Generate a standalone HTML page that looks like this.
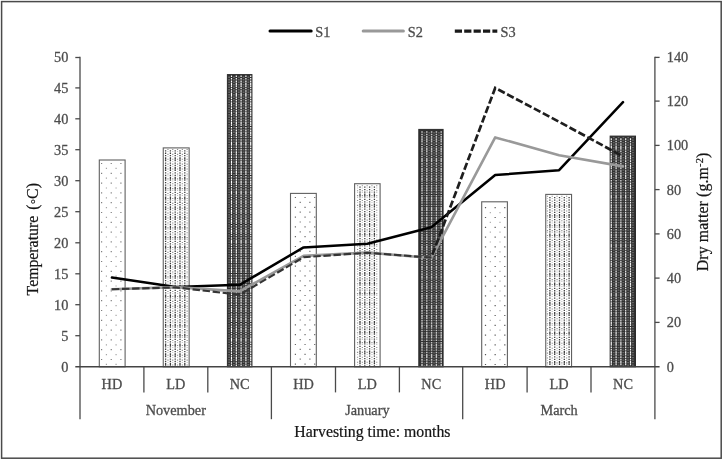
<!DOCTYPE html>
<html><head><meta charset="utf-8"><title>Chart</title>
<style>
html,body{margin:0;padding:0;background:#fff;overflow:hidden;}
svg{display:block}
text{font-family:"Liberation Serif",serif;}
.l{font-size:14.3px;fill:#4c4c4c;stroke:#4c4c4c;stroke-width:0.28px;}
.t{font-size:15.8px;fill:#161616;stroke:#161616;stroke-width:0.22px;}
</style></head><body>
<svg width="723" height="461" viewBox="0 0 723 461">

<rect x="0" y="0" width="723" height="461" fill="#fff"/>
<rect x="1.6" y="1.6" width="719.6" height="456.6" fill="none" stroke="#4a4a4a" stroke-width="1.5"/>

<rect x="99.30" y="160.00" width="25.80" height="206.80" fill="#fff" stroke="#606060" stroke-width="1.1"/>
<path d="M101.60 162.90V366.0M111.25 162.90V366.0M120.90 162.90V366.0" stroke="#808080" stroke-width="1.2" stroke-dasharray="1.2 8.6" fill="none"/>
<path d="M106.43 167.80V366.0M116.08 167.80V366.0" stroke="#a4a4a4" stroke-width="1.2" stroke-dasharray="1.2 8.6" fill="none"/>
<rect x="163.25" y="147.90" width="25.90" height="218.90" fill="#fff" stroke="#606060" stroke-width="1.1"/>
<path d="M165.60 150.15V366.0M170.40 150.15V366.0M175.20 150.15V366.0M180.00 150.15V366.0M184.80 150.15V366.0" stroke="#3c3c3c" stroke-width="1.3" stroke-dasharray="1.3 1.15 1.3 1.15 1.3 0.9 2.45 0.25" fill="none"/>
<path d="M167.95 148.90V366.0M172.75 148.90V366.0M177.55 148.90V366.0M182.35 148.90V366.0M187.15 148.90V366.0" stroke="#909090" stroke-width="1.2" stroke-dasharray="1.1 1.35 0.5 1.95" fill="none"/>
<rect x="227.40" y="74.60" width="24.55" height="292.20" fill="#303030" stroke="#2c2c2c" stroke-width="1"/>
<path d="M231.50 75.50V366.0M236.30 75.50V366.0M241.10 75.50V366.0M245.90 75.50V366.0M250.70 75.50V366.0" stroke="#fff" stroke-width="1.2" stroke-dasharray="1.6 0.85 1.6 0.85 1.6 0.6 2.5 0.2" fill="none"/>
<path d="M229.15 76.60V366.0M233.95 76.60V366.0M238.75 76.60V366.0M243.55 76.60V366.0M248.35 76.60V366.0" stroke="#686868" stroke-width="1.8" stroke-dasharray="1.3 1.2" fill="none"/>
<rect x="290.50" y="193.40" width="25.80" height="173.40" fill="#fff" stroke="#606060" stroke-width="1.1"/>
<path d="M295.40 196.90V366.0M305.05 196.90V366.0M314.70 196.90V366.0" stroke="#6a6a6a" stroke-width="1.2" stroke-dasharray="1.2 8.6" fill="none"/>
<path d="M300.23 201.80V366.0M309.88 201.80V366.0" stroke="#747474" stroke-width="1.2" stroke-dasharray="1.2 8.6" fill="none"/>
<rect x="354.60" y="183.70" width="25.50" height="183.10" fill="#fff" stroke="#606060" stroke-width="1.1"/>
<path d="M360.00 186.50V366.0M364.80 186.50V366.0M369.60 186.50V366.0M374.40 186.50V366.0" stroke="#3c3c3c" stroke-width="1.3" stroke-dasharray="1.3 1.15 1.3 1.15 1.3 0.9 2.45 0.25" fill="none"/>
<path d="M357.55 185.25V366.0M362.35 185.25V366.0M367.15 185.25V366.0M371.95 185.25V366.0M376.75 185.25V366.0" stroke="#909090" stroke-width="1.2" stroke-dasharray="1.1 1.35 0.5 1.95" fill="none"/>
<rect x="418.80" y="129.40" width="24.30" height="237.40" fill="#303030" stroke="#2c2c2c" stroke-width="1"/>
<path d="M422.00 131.20V366.0M426.80 131.20V366.0M431.60 131.20V366.0M436.40 131.20V366.0M441.20 131.20V366.0" stroke="#c6c6c6" stroke-width="1.5" stroke-dasharray="1.6 0.85 1.6 0.85 1.6 0.6 2.5 0.2" fill="none"/>
<path d="M424.45 132.30V366.0M429.25 132.30V366.0M434.05 132.30V366.0M438.85 132.30V366.0" stroke="#686868" stroke-width="1.8" stroke-dasharray="1.3 1.2" fill="none"/>
<rect x="481.70" y="201.80" width="25.70" height="165.00" fill="#fff" stroke="#606060" stroke-width="1.1"/>
<path d="M485.50 207.10V366.0M495.15 207.10V366.0M504.80 207.10V366.0" stroke="#585858" stroke-width="1.2" stroke-dasharray="1.2 8.6" fill="none"/>
<path d="M490.33 212.00V366.0M499.98 212.00V366.0" stroke="#adadad" stroke-width="1.2" stroke-dasharray="1.2 8.6" fill="none"/>
<rect x="545.75" y="194.40" width="25.80" height="172.40" fill="#fff" stroke="#606060" stroke-width="1.1"/>
<path d="M549.90 197.00V366.0M554.70 197.00V366.0M559.50 197.00V366.0M564.30 197.00V366.0M569.10 197.00V366.0" stroke="#3c3c3c" stroke-width="1.3" stroke-dasharray="1.3 1.15 1.3 1.15 1.3 0.9 2.45 0.25" fill="none"/>
<path d="M547.45 195.75V366.0M552.25 195.75V366.0M557.05 195.75V366.0M561.85 195.75V366.0M566.65 195.75V366.0" stroke="#909090" stroke-width="1.2" stroke-dasharray="1.1 1.35 0.5 1.95" fill="none"/>
<rect x="610.15" y="136.10" width="25.35" height="230.70" fill="#303030" stroke="#2c2c2c" stroke-width="1"/>
<path d="M611.30 138.30V366.0M616.10 138.30V366.0M620.90 138.30V366.0M625.70 138.30V366.0M630.50 138.30V366.0" stroke="#f2f2f2" stroke-width="1.2" stroke-dasharray="1.6 0.85 1.6 0.85 1.6 0.6 2.5 0.2" fill="none"/>
<path d="M613.75 136.90V366.0M618.55 136.90V366.0M623.35 136.90V366.0M628.15 136.90V366.0M632.95 136.90V366.0" stroke="#686868" stroke-width="1.8" stroke-dasharray="1.3 1.2" fill="none"/>
<g stroke="#4a4a4a" stroke-width="1.3" fill="none">
<line x1="80.0" y1="56.8" x2="80.0" y2="419.2"/>
<line x1="654.9" y1="56.8" x2="654.9" y2="419.2"/>
<line x1="75.3" y1="335.70" x2="80.0" y2="335.70"/>
<line x1="75.3" y1="304.70" x2="80.0" y2="304.70"/>
<line x1="75.3" y1="273.80" x2="80.0" y2="273.80"/>
<line x1="75.3" y1="242.80" x2="80.0" y2="242.80"/>
<line x1="75.3" y1="211.70" x2="80.0" y2="211.70"/>
<line x1="75.3" y1="180.70" x2="80.0" y2="180.70"/>
<line x1="75.3" y1="149.70" x2="80.0" y2="149.70"/>
<line x1="75.3" y1="118.80" x2="80.0" y2="118.80"/>
<line x1="75.3" y1="87.90" x2="80.0" y2="87.90"/>
<line x1="75.3" y1="57.50" x2="80.0" y2="57.50"/>
<line x1="654.9" y1="322.40" x2="659.6" y2="322.40"/>
<line x1="654.9" y1="278.10" x2="659.6" y2="278.10"/>
<line x1="654.9" y1="233.90" x2="659.6" y2="233.90"/>
<line x1="654.9" y1="189.60" x2="659.6" y2="189.60"/>
<line x1="654.9" y1="145.40" x2="659.6" y2="145.40"/>
<line x1="654.9" y1="101.10" x2="659.6" y2="101.10"/>
<line x1="654.9" y1="57.40" x2="659.6" y2="57.40"/>
<line x1="143.9" y1="366.8" x2="143.9" y2="392.4"/>
<line x1="207.8" y1="366.8" x2="207.8" y2="392.4"/>
<line x1="271.4" y1="366.8" x2="271.4" y2="419.2"/>
<line x1="335.5" y1="366.8" x2="335.5" y2="392.4"/>
<line x1="399.4" y1="366.8" x2="399.4" y2="392.4"/>
<line x1="462.7" y1="366.8" x2="462.7" y2="419.2"/>
<line x1="527.1" y1="366.8" x2="527.1" y2="392.4"/>
<line x1="591.0" y1="366.8" x2="591.0" y2="392.4"/>
</g>
<line x1="75.3" y1="366.8" x2="659.6" y2="366.8" stroke="#444" stroke-width="1.6"/>
<polyline points="111.9,277.6 175.8,287.1 239.7,284.8 303.6,247.4 367.4,243.8 431.3,227.3 495.2,175.0 559.1,170.2 623.0,102.2" fill="none" stroke="#000" stroke-width="2.5" stroke-linejoin="round" stroke-linecap="round"/>
<polyline points="111.9,289.2 175.8,287.1 239.7,291.4 303.6,255.9 367.4,252.6 431.3,258.0 495.2,137.4 559.1,155.2 623.0,166.4" fill="none" stroke="#999" stroke-width="2.6" stroke-linejoin="round" stroke-linecap="round"/>
<polyline points="111.9,289.2 175.8,287.4 239.7,294.7 303.6,257.2 367.4,252.8 431.3,257.6" fill="none" stroke="#353535" stroke-width="2.15" stroke-linejoin="round" stroke-dasharray="7.4 2.7"/>
<polyline points="431.3,257.6 495.2,87.9 559.1,121.8 623.0,156.4" fill="none" stroke="#1e1e1e" stroke-width="2.7" stroke-linejoin="miter" stroke-dasharray="7.4 2.7" stroke-dashoffset="7.16"/>
<line x1="270" y1="31.1" x2="311.2" y2="31.1" stroke="#000" stroke-width="3" stroke-linecap="round"/>
<line x1="363.2" y1="31.1" x2="403.4" y2="31.1" stroke="#999" stroke-width="3" stroke-linecap="round"/>
<line x1="454.8" y1="31.1" x2="497.3" y2="31.1" stroke="#1a1a1a" stroke-width="3.1" stroke-dasharray="7.2 2.2"/>
<text class="l" x="315.2" y="37.2">S1</text>
<text class="l" x="407.7" y="37.2">S2</text>
<text class="l" x="500.6" y="37.2">S3</text>
<text class="l" x="68.4" y="371.5" text-anchor="end">0</text>
<text class="l" x="68.4" y="340.6" text-anchor="end">5</text>
<text class="l" x="68.4" y="309.6" text-anchor="end">10</text>
<text class="l" x="68.4" y="278.7" text-anchor="end">15</text>
<text class="l" x="68.4" y="247.7" text-anchor="end">20</text>
<text class="l" x="68.4" y="216.6" text-anchor="end">25</text>
<text class="l" x="68.4" y="185.6" text-anchor="end">30</text>
<text class="l" x="68.4" y="154.6" text-anchor="end">35</text>
<text class="l" x="68.4" y="123.7" text-anchor="end">40</text>
<text class="l" x="68.4" y="92.8" text-anchor="end">45</text>
<text class="l" x="68.4" y="62.4" text-anchor="end">50</text>
<text class="l" x="666.8" y="371.5">0</text>
<text class="l" x="666.8" y="327.3">20</text>
<text class="l" x="666.8" y="283.0">40</text>
<text class="l" x="666.8" y="238.8">60</text>
<text class="l" x="666.8" y="194.5">80</text>
<text class="l" x="666.8" y="150.3">100</text>
<text class="l" x="666.8" y="106.0">120</text>
<text class="l" x="666.8" y="62.3">140</text>
<text class="l" x="111.9" y="388.7" text-anchor="middle">HD</text>
<text class="l" x="175.8" y="388.7" text-anchor="middle">LD</text>
<text class="l" x="239.7" y="388.7" text-anchor="middle">NC</text>
<text class="l" x="303.6" y="388.7" text-anchor="middle">HD</text>
<text class="l" x="367.4" y="388.7" text-anchor="middle">LD</text>
<text class="l" x="431.3" y="388.7" text-anchor="middle">NC</text>
<text class="l" x="495.2" y="388.7" text-anchor="middle">HD</text>
<text class="l" x="559.1" y="388.7" text-anchor="middle">LD</text>
<text class="l" x="623.0" y="388.7" text-anchor="middle">NC</text>
<text class="l" x="175.8" y="414.6" text-anchor="middle">November</text>
<text class="l" x="367.4" y="414.6" text-anchor="middle">January</text>
<text class="l" x="559.1" y="414.6" text-anchor="middle">March</text>
<text class="t" x="372.4" y="437" text-anchor="middle">Harvesting time: months</text>
<text class="t" transform="translate(37.5,295.4) rotate(-90)">Temperature <tspan dx="2.1">(◦C)</tspan></text>
<text class="t" transform="translate(708.0,271.3) rotate(-90)" letter-spacing="0.14">Dry matter (g.m<tspan font-size="10.5" dy="-5.4">-2</tspan><tspan dy="5.4">)</tspan></text>
</svg></body></html>
